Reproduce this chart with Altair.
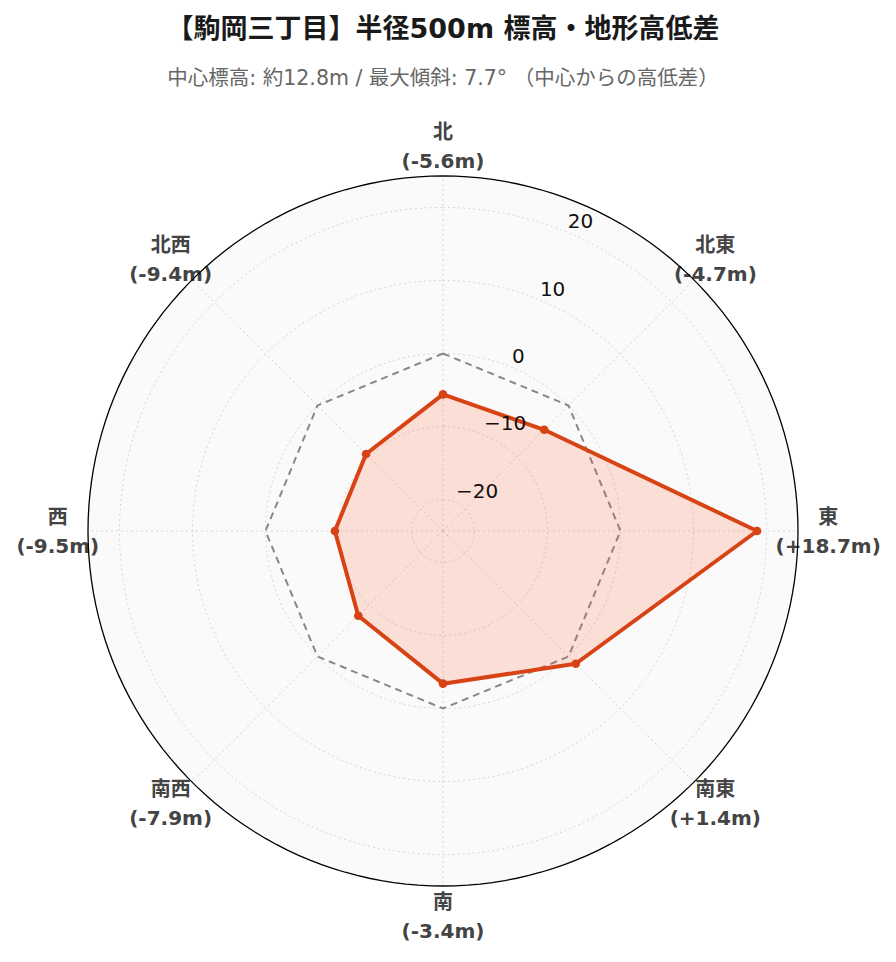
import math
import altair as alt
import pandas as pd

# ---- data ----
directions = ["北", "北東", "東", "南東", "南", "南西", "西", "北西"]
angles_deg = [0, 45, 90, 135, 180, 225, 270, 315]
diffs = [-5.6, -4.7, 18.7, 1.4, -3.4, -7.9, -9.5, -9.4]
diff_labels = ["(-5.6m)", "(-4.7m)", "(+18.7m)", "(+1.4m)", "(-3.4m)", "(-7.9m)", "(-9.5m)", "(-9.4m)"]
radial_ticks = [-20, -10, 0, 10, 20]
radial_tick_labels = ["−20", "−10", "0", "10", "20"]
reference_level = 0.0
r_min, r_max = -24.3, 24.3

title_text = "【駒岡三丁目】半径500m 標高・地形高低差"
subtitle_text = "中心標高: 約12.8m / 最大傾斜: 7.7° （中心からの高低差）"

SPAN = r_max - r_min
RED = "#d84315"
FONT = "DejaVu Sans, Noto Sans CJK JP"
circle_steps = list(range(0, 361, 2))

# ---- tables ----
n = len(directions)
poly = pd.DataFrame({
    "idx": list(range(n + 1)),
    "dir": directions + [directions[0]],
    "angle": angles_deg + [angles_deg[0]],
    "value": diffs + [diffs[0]],
})
ref = pd.DataFrame({
    "idx": list(range(n + 1)),
    "angle": angles_deg + [angles_deg[0]],
    "value": [reference_level] * (n + 1),
})
pts = pd.DataFrame({"dir": directions, "angle": angles_deg, "value": diffs})
lab = pd.DataFrame({
    "angle": angles_deg,
    "label": [f"{d}\n{l}" for d, l in zip(directions, diff_labels)],
})
spokes = pd.DataFrame({"angle": angles_deg})
grid_ticks = pd.DataFrame({"tick": radial_ticks, "tlabel": radial_tick_labels})
grid_rings = pd.DataFrame(
    [{"tick": t, "angle": a} for t in radial_ticks for a in circle_steps]
)
rim = pd.DataFrame({"angle": circle_steps, "value": [r_max] * len(circle_steps)})

xs = alt.Scale(domain=[-SPAN, SPAN], nice=False, zero=False)
ys = alt.Scale(domain=[-SPAN, SPAN], nice=False, zero=False)


def polar(chart, rexpr, aexpr="datum.angle"):
    return chart.transform_calculate(
        px=f"({rexpr}) * sin(({aexpr}) * PI / 180)",
        py=f"({rexpr}) * cos(({aexpr}) * PI / 180)",
    )


X = alt.X("px:Q", scale=xs, axis=None)
Y = alt.Y("py:Q", scale=ys, axis=None)

disk = polar(alt.Chart(rim), f"datum.value - ({r_min})").mark_line(
    fill="#fafafa", stroke=None, strokeWidth=0,
).encode(x=X, y=Y, order="angle:Q")

labels = polar(alt.Chart(lab), f"{SPAN} * 1.085").mark_text(
    font=FONT, fontSize=20, fontWeight="bold", color="#444444",
    lineBreak="\n", lineHeight=29, align="center", baseline="middle", dy=-13,
).encode(x=X, y=Y, text="label:N")

outline = polar(alt.Chart(rim), f"datum.value - ({r_min})").mark_line(
    stroke="#000000", strokeWidth=1.3,
).encode(x=X, y=Y, order="angle:Q")

rings = polar(alt.Chart(grid_rings), f"datum.tick - ({r_min})").mark_line(
    stroke="#d6d6d6", strokeWidth=1, strokeDash=[2, 3],
).encode(x=X, y=Y, detail="tick:N", order="angle:Q")

spk = alt.Chart(spokes).transform_calculate(
    x0="0", y0="0",
    x1=f"{SPAN} * sin(datum.angle * PI / 180)",
    y1=f"{SPAN} * cos(datum.angle * PI / 180)",
).mark_rule(stroke="#d6d6d6", strokeWidth=1, strokeDash=[2, 3]).encode(
    x=alt.X("x0:Q", scale=xs, axis=None), y=alt.Y("y0:Q", scale=ys, axis=None),
    x2="x1:Q", y2="y1:Q",
)

refline = polar(alt.Chart(ref), f"datum.value - ({r_min})").mark_line(
    stroke="#888888", strokeWidth=2, strokeDash=[7, 5],
).encode(x=X, y=Y, order="idx:O")

area = polar(alt.Chart(poly), f"datum.value - ({r_min})").mark_line(
    fill="#ff5722", fillOpacity=0.17, stroke=RED, strokeWidth=4, strokeJoin="round",
).encode(x=X, y=Y, order="idx:O")

dots = polar(alt.Chart(pts), f"datum.value - ({r_min})").mark_circle(
    size=75, color=RED, opacity=1,
).encode(x=X, y=Y, tooltip=["dir:N", "value:Q"])

ticks = polar(alt.Chart(grid_ticks), f"datum.tick - ({r_min})", "22.5").mark_text(
    font=FONT, fontSize=20, color="#111111", align="left", baseline="middle",
    dx=1, dy=-10,
).encode(x=X, y=Y, text="tlabel:N")

chart = alt.layer(disk, rings, spk, labels, outline, refline, area, dots, ticks).properties(
    width=710, height=710,
    autosize=alt.AutoSizeParams(type="none"),
    padding={"left": 80, "top": 168, "right": 90, "bottom": 60},
    title=alt.TitleParams(
        text=title_text, subtitle=subtitle_text, anchor="middle",
        font=FONT, fontSize=27, fontWeight="bold", color="#1a1a1a",
        subtitleFont=FONT, subtitleFontSize=20.5, subtitleColor="#666666",
        subtitlePadding=25, offset=32,
    ),
).configure_view(stroke=None)

chart.save("out.html", embed_options={"renderer": "svg", "actions": False})
